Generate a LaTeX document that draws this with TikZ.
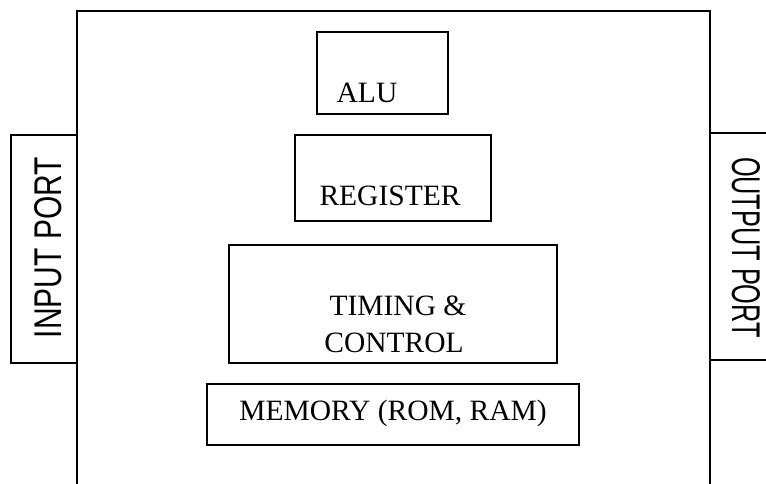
\documentclass[tikz,border=0pt]{standalone}
\usepackage{fontspec}
\usepackage{graphicx}
\setmainfont{Liberation Serif}
\newfontfamily\portfont{Liberation Sans}
\begin{document}
\begin{tikzpicture}[x=1pt,y=-1pt,
  box/.style={draw,line width=1.3pt,inner sep=0pt},
  lbl/.style={inner sep=0pt,anchor=base,font=\fontsize{29.5}{34}\selectfont},
  plbl/.style={inner sep=0pt,font=\portfont\fontsize{38}{44}\selectfont},
  edge/.style={line width=1.3pt}]
\useasboundingbox (0,0) rectangle (766,484);
% main frame (open at the bottom)
\coordinate (mbl) at (77,484);
\coordinate (mtl) at (77,11);
\coordinate (mtr) at (710,11);
\coordinate (mbr) at (710,484);
\draw[edge] (mbl) -- (mtl) -- (mtr) -- (mbr);
% input port
\node[box,minimum width=66pt,minimum height=228pt] (inp) at (44,249) {};
\node[plbl,rotate=90] (inptxt) at (48.5,247.5) {\resizebox{181pt}{27pt}{INPUT PORT}};
% output port (open at the right)
\coordinate (otr) at (766,133);
\coordinate (otl) at (710,133);
\coordinate (obl) at (710,360);
\coordinate (obr) at (766,360);
\draw[edge] (otr) -- (otl) -- (obl) -- (obr);
\node[plbl,rotate=-90] (outtxt) at (746,247.5) {\resizebox{181pt}{28pt}{OUTPUT PORT}};
% ALU
\node[box,minimum width=131pt,minimum height=82pt] (alu) at (382.5,73) {};
\node[lbl] (alutxt) at (367,103) {ALU};
% register
\node[box,minimum width=196pt,minimum height=86pt] (reg) at (393,178) {};
\node[lbl] (regtxt) at (390,205) {REGISTER};
% timing & control
\node[box,minimum width=328pt,minimum height=118pt] (tc) at (393,304) {};
\node[lbl] (tctxt1) at (398,315) {TIMING \&};
\node[lbl] (tctxt2) at (394,352) {CONTROL};
% memory
\node[box,minimum width=372pt,minimum height=61pt] (mem) at (393,414.5) {};
\node[lbl] (memtxt) at (393,420) {MEMORY (ROM, RAM)};
\end{tikzpicture}
\end{document}
